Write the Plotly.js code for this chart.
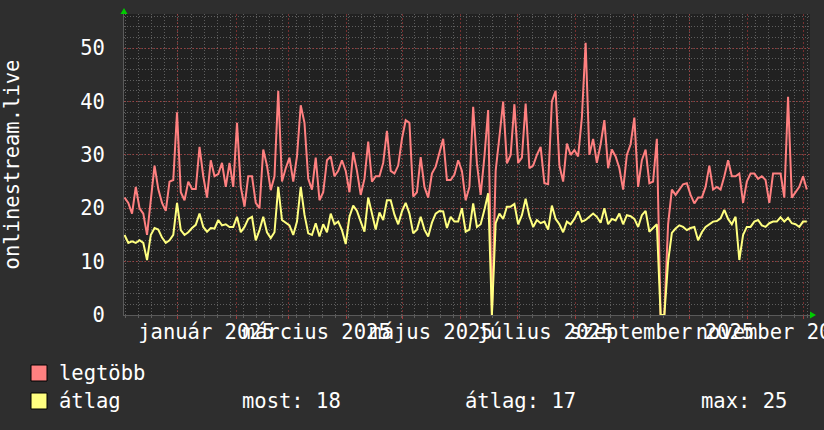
<!DOCTYPE html>
<html><head><meta charset="utf-8">
<script src="https://cdn.plot.ly/plotly-3.0.1.min.js"></script>
<style>html,body{margin:0;padding:0;background:#2e2e2e;}#chart{width:824px;height:430px;}</style>
</head><body><div id="chart"></div>
<script>
// ---- data ----
const startDate = '2024-12-03T12:00:00';
const stepDays = 2;
const legtobb = [22,21,19,24,20,19,15,22,28,23.6,21,19.5,25,25.3,38,23,21.5,25,23.6,23.6,
31.5,26,22,29,26,26.4,28.5,24,28.5,24,36,24,20.3,26,26,21,20,31,28,23.4,
26,42,25,27.5,29.5,25,29.7,39.3,36,25.5,23.5,29.5,21.5,23,29,29.7,26,27,29,27,
23,30.5,27,22.5,25.5,32.5,25,26,26,28.5,34.5,27,26.5,28,33,36.5,36,22.2,23,29.6,
24,22,26.5,27.8,30.5,33,25.3,25.3,26.3,29,27,21.5,24,39,28.4,22.5,29.7,38.4,0,27,
33.4,40,28.4,30,39.5,28.5,29.5,39.6,27.5,28,30,31.5,24.7,24.5,40,42,28,25,32.1,30,
30.9,29.7,37,51,30,33,28.5,32,36.5,27.5,31,29.7,27.5,23.5,30,32,37,24,29,31,
24.7,25,33,0,0,17,23.5,22.5,23.5,24.5,24.7,22.5,20.9,22,22,24,28,23.5,24,23.5,
26,29,26,26,26.5,21,25,26.5,26.5,25.5,26,25.3,21,26.5,26.5,26.5,22,40.9,22,23,
24,26,23.5];
const atlag = [15,13.5,13.8,13.5,14,13.5,10.3,15,16.3,16,14.5,13.5,14,15,21,15.9,15,15.5,16.3,16.9,
19,16.5,15.6,16.3,16.2,17.8,16.8,17,16.5,16.5,18.4,15.5,16.5,18,18.4,14,15.9,18.4,15.5,14.4,
15.5,24,17.8,17.3,16.8,15,17.5,24,18.8,15.3,15,17.2,14.7,17,15.5,19,17,17.5,15.9,13.3,
18.4,20.5,19.5,17.5,15.6,22,19,16,19.2,17.8,21.5,21.5,18.8,17,19.4,21,19,15.3,16,18.4,
16,14.7,17.3,19,19.5,19.4,16.3,18.4,17.5,17.5,20,15.6,16,20.9,16.5,17,19.7,22.8,0,17.2,
19,18,20.3,20.3,20.8,17,18.7,21.8,18.5,16.5,17.8,17.2,17.5,16,20.5,18,17,15.5,17.5,17,
18,19.4,17.5,17.8,18.4,19,18.4,17.3,20,17,18,17.7,19,17,18.7,18.5,18,16.5,18.7,19.5,
15.6,16.3,17,0,0,10,15.4,16.2,16.8,16.5,15.9,16.3,16.5,14,15.5,16.5,17,17.5,17.6,18.1,
19.7,18,17,18.4,10.3,15,16.5,16.5,17.5,17.8,16.8,16.5,17.2,17.5,17.5,18.3,17.5,18.2,17.2,17,
16.5,17.5,17.5];
const monthTicks = ['2024-12-01','2025-01-01','2025-02-01','2025-03-01','2025-04-01','2025-05-01',
  '2025-06-01','2025-07-01','2025-08-01','2025-09-01','2025-10-01','2025-11-01','2025-12-01'];
const labelTicks = ['2025-01-16','2025-03-16','2025-05-16','2025-07-16','2025-09-16','2025-11-16'];
const labelTexts = ['január 2025','március 2025','május 2025','július 2025','szeptember 2025','november 2025'];
const yTicks = [0,10,20,30,40,50];
const seriesNames = ['legtöbb','átlag'];
const statTexts = ['most: 18','átlag: 17','max: 25'];
const yTitle = 'onlinestream.live';

// ---- build ----
const t0 = Date.parse(startDate + 'Z');
function fmt(ms){ return new Date(ms).toISOString().slice(0,16).replace('T',' '); }
const dates = legtobb.map((_, i) => fmt(t0 + i * stepDays * 86400000));

const FONT = 'DejaVu Sans Mono, monospace';
const PL = 124, PR = 810, PT = 14, PB = 315;
const px = x => (x - PL) / (PR - PL);
const py = y => (PB - y) / (PB - PT);
const xRange = ['2024-12-03 05:00', '2025-12-04 05:00'];

const traces = [
  {x: dates, y: legtobb, type: 'scatter', mode: 'lines', name: seriesNames[0],
   line: {color: '#ff8080', width: 2}, xaxis: 'x', yaxis: 'y'},
  {x: dates, y: atlag, type: 'scatter', mode: 'lines', name: seriesNames[1],
   line: {color: '#ffff80', width: 2}, xaxis: 'x', yaxis: 'y'},
  // carrier for the month-label axis (draws nothing)
  {x: labelTicks, y: labelTicks.map(() => null), type: 'scatter', mode: 'markers',
   marker: {opacity: 0}, xaxis: 'x2', yaxis: 'y', hoverinfo: 'skip', showlegend: false}
];

const layout = {
  width: 824, height: 430,
  margin: {l: PL, r: 824 - PR, t: PT, b: 430 - PB, pad: 0},
  paper_bgcolor: '#2e2e2e', plot_bgcolor: '#212121',
  showlegend: false,
  font: {family: FONT, color: '#ffffff', size: 20.5},
  xaxis: {
    type: 'date', range: xRange, tickmode: 'array', tickvals: monthTicks,
    showticklabels: false, ticks: 'outside', ticklen: 3, tickcolor: '#a03c3c',
    showgrid: true, gridcolor: 'rgba(190,60,60,0.55)', griddash: '2px,2px', gridwidth: 1,
    minor: {dtick: 7*86400000, tick0: '2025-01-01', showgrid: true, gridcolor: '#5e5e5e',
            griddash: '1px,2px', ticks: 'outside', ticklen: 2, tickcolor: '#5e5e5e'},
    showline: true, linecolor: '#5a5a5a', linewidth: 1, zeroline: false, fixedrange: true
  },
  xaxis2: {
    type: 'date', range: xRange, overlaying: 'x', anchor: 'y', side: 'bottom',
    tickmode: 'array', tickvals: labelTicks, ticktext: labelTexts, tickangle: 0,
    ticks: '', showgrid: false, showline: false, zeroline: false,
    ticklabeloverflow: 'allow',
    tickfont: {family: FONT, size: 20.5, color: '#ffffff'}, ticklabelstandoff: 2
  },
  yaxis: {
    range: [0, 56.4], tickmode: 'array', tickvals: yTicks, ticks: '',
    showgrid: true, gridcolor: 'rgba(190,60,60,0.55)', griddash: '2px,2px', gridwidth: 1,
    minor: {dtick: 2, tick0: 0, showgrid: true, gridcolor: '#5e5e5e', griddash: '1px,2px'},
    zeroline: false, showline: true, linecolor: '#5a5a5a', linewidth: 1,
    tickfont: {family: FONT, size: 20.5, color: '#ffffff'}, ticklabelstandoff: 14,
    title: {text: yTitle, font: {family: FONT, size: 20.5, color: '#ffffff'}, standoff: 58}
  },
  shapes: [
    {type: 'rect', xref: 'paper', yref: 'paper', x0: px(31), x1: px(47), y0: py(365), y1: py(381),
     fillcolor: '#ff8080', line: {color: '#000000', width: 1}},
    {type: 'rect', xref: 'paper', yref: 'paper', x0: px(31), x1: px(47), y0: py(393), y1: py(409),
     fillcolor: '#ffff80', line: {color: '#000000', width: 1}},
    {type: 'path', xref: 'paper', yref: 'paper',
     path: `M ${px(120.5)},${py(14)} L ${px(127.5)},${py(14)} L ${px(124)},${py(8)} Z`,
     fillcolor: '#00cc00', line: {color: '#00cc00', width: 0}},
    {type: 'path', xref: 'paper', yref: 'paper',
     path: `M ${px(810)},${py(311.5)} L ${px(810)},${py(318.5)} L ${px(816)},${py(315)} Z`,
     fillcolor: '#00cc00', line: {color: '#00cc00', width: 0}}
  ],
  annotations: [
    {xref: 'paper', yref: 'paper', x: px(57), y: py(373), xanchor: 'left', yanchor: 'middle',
     text: seriesNames[0], showarrow: false, font: {family: FONT, size: 20.5, color: '#ffffff'}},
    {xref: 'paper', yref: 'paper', x: px(57), y: py(401), xanchor: 'left', yanchor: 'middle',
     text: seriesNames[1], showarrow: false, font: {family: FONT, size: 20.5, color: '#ffffff'}},
    {xref: 'paper', yref: 'paper', x: px(240), y: py(401), xanchor: 'left', yanchor: 'middle',
     text: statTexts[0], showarrow: false, font: {family: FONT, size: 20.5, color: '#ffffff'}},
    {xref: 'paper', yref: 'paper', x: px(463), y: py(401), xanchor: 'left', yanchor: 'middle',
     text: statTexts[1], showarrow: false, font: {family: FONT, size: 20.5, color: '#ffffff'}},
    {xref: 'paper', yref: 'paper', x: px(699), y: py(401), xanchor: 'left', yanchor: 'middle',
     text: statTexts[2], showarrow: false, font: {family: FONT, size: 20.5, color: '#ffffff'}}
  ]
};

Plotly.newPlot('chart', traces, layout, {staticPlot: true, displayModeBar: false});
</script>
</body></html>
